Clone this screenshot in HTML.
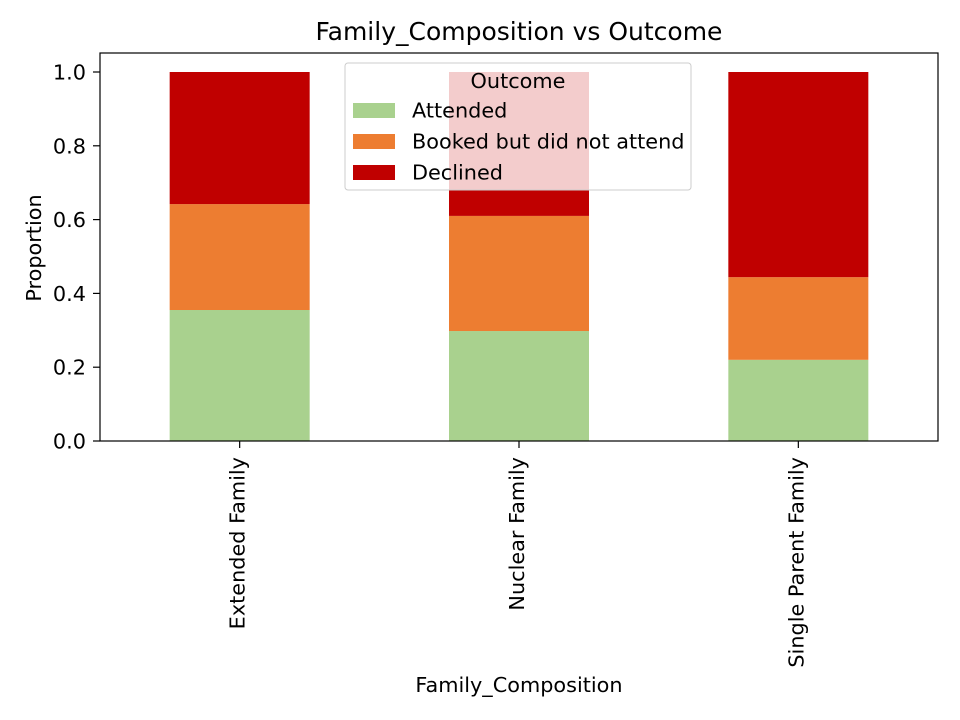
<!DOCTYPE html>
<html><head><meta charset="utf-8"><style>
body{margin:0;background:#fff}
svg{display:block;font-family:"DejaVu Sans","Liberation Sans",sans-serif}
</style></head><body>
<svg id="chart" width="960" height="720" viewBox="0 0 960 720"></svg>
<script>
const categories = ["Extended Family", "Nuclear Family", "Single Parent Family"];
const seriesNames = ["Attended", "Booked but did not attend", "Declined"];
const attended = [0.355, 0.298, 0.22];
const booked = [0.287, 0.312, 0.224];
const declined = [0.358, 0.39, 0.556];
const yTicks = [0.0, 0.2, 0.4, 0.6, 0.8, 1.0];
const colors = ["#a9d18e", "#ed7d31", "#c00000"];

const svg = document.getElementById('chart');
const NS = "http://www.w3.org/2000/svg";
const L = 100, R = 938, T = 53, B = 441;
const FS = 20.8;
const y = v => B - v * 369;
const x = i => L + (R - L) * (i + 0.5) / categories.length;
const bw = 140;
function mk(tag, attrs, parent) {
  const e = document.createElementNS(NS, tag);
  for (const k in attrs) e.setAttribute(k, attrs[k]);
  (parent || svg).appendChild(e);
  return e;
}
const series = [attended, booked, declined];
categories.forEach((c, i) => {
  let base = 0;
  series.forEach((s, k) => {
    const r = mk('rect', {x: x(i) - bw / 2, y: y(base + s[i]), width: bw, height: y(base) - y(base + s[i]), fill: colors[k]});
    
    
    base += s[i];
  });
  mk('line', {x1: x(i), x2: x(i), y1: B, y2: B + 7, stroke: '#000', 'stroke-width': 1.2});
  const lb = mk('text', {x: 0, y: 0, 'font-size': FS, 'text-anchor': 'end', transform: `translate(${x(i) + 5},${B + 16}) rotate(-90)`});
  lb.textContent = c;
  
  
});
yTicks.forEach(v => {
  mk('line', {x1: L - 7, x2: L, y1: y(v), y2: y(v), stroke: '#000', 'stroke-width': 1.2});
  const t = mk('text', {x: L - 14, y: y(v) + 7.5, 'font-size': FS, 'text-anchor': 'end'});
  t.textContent = v.toFixed(1);
  
  
});
const frame = mk('rect', {x: L, y: T, width: R - L, height: B - T, fill: 'none', stroke: '#000', 'stroke-width': 1.2});


const title = mk('text', {x: 519, y: 40, 'font-size': 25, 'text-anchor': 'middle'});
title.textContent = 'Family_Composition vs Outcome';


const xt = mk('text', {x: 519, y: 692, 'font-size': FS, 'text-anchor': 'middle'});
xt.textContent = 'Family_Composition';


const yt = mk('text', {x: 0, y: 0, 'font-size': FS, 'text-anchor': 'middle', transform: 'translate(41,248) rotate(-90)'});
yt.textContent = 'Proportion';


const lg = mk('g', {});


mk('rect', {x: 345, y: 63, width: 346, height: 127, rx: 3, fill: 'rgba(255,255,255,0.8)', stroke: '#ccc'}, lg);
const lt = mk('text', {x: 518, y: 88, 'font-size': FS, 'text-anchor': 'middle'}, lg);
lt.textContent = 'Outcome';
seriesNames.forEach((n, k) => {
  const cy = 110 + k * 31;
  mk('rect', {x: 353, y: cy - 7, width: 42, height: 15, fill: colors[k]}, lg);
  const t = mk('text', {x: 412, y: cy + 7.5, 'font-size': FS}, lg);
  t.textContent = n;
  
  
});
</script>
</body></html>
